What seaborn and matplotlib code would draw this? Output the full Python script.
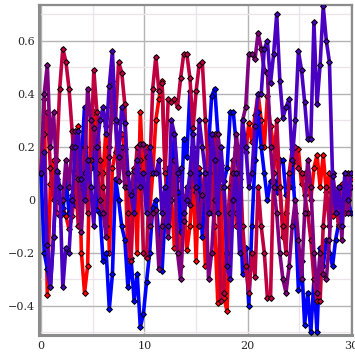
import numpy as np
import pandas as pd
import seaborn as sns
import matplotlib
matplotlib.use("Agg")
import matplotlib.pyplot as plt
from matplotlib.ticker import MultipleLocator

# x positions: 101 samples from 0 to 30
x_vals = np.round(np.arange(101) * 0.3, 2)

red_vals = [0.10, 0.38, -0.36, 0.06, 0.15, -0.05, -0.06, -0.03, -0.06, -0.11,
            -0.06, 0.05, 0.28, -0.20, -0.35, -0.25, 0.30, 0.33, 0.22, -0.05,
            0.10, 0.28, -0.20, 0.12, 0.18, 0.25, 0.25, 0.19, -0.23, 0.02,
            0.12, -0.20, 0.33, 0.06, 0.20, -0.05, 0.10, 0.30, 0.38, 0.45,
            0.12, -0.10, 0.02, -0.18, 0.08, -0.25, 0.01, -0.19, -0.10, 0.10,
            -0.23, 0.12, 0.05, -0.25, 0.02, 0.20, -0.10, -0.39, 0.05, -0.37,
            -0.42, 0.05, 0.15, -0.10, 0.08, 0.25, 0.18, 0.29, 0.22, 0.32,
            0.40, 0.30, 0.20, 0.39, 0.28, 0.20, 0.16, 0.05, -0.14, -0.05,
            0.10, 0.05, 0.19, 0.19, 0.06, 0.10, 0.06, 0.00, 0.12, 0.17,
            0.05, 0.17, 0.03, 0.10, -0.06, 0.00, -0.08, 0.06, -0.04, 0.02, 0.08]

blue_vals = [0.10, -0.20, -0.26, -0.33, -0.14, 0.08, 0.00, -0.05, 0.09, -0.05,
             0.02, -0.02, 0.03, 0.15, 0.35, 0.03, 0.12, 0.20, -0.04, -0.05,
             -0.23, -0.20, -0.41, -0.28, 0.08, 0.00, -0.10, -0.15, -0.33, -0.22,
             -0.38, -0.28, -0.48, -0.43, -0.31, -0.20, -0.03, 0.00, -0.14, -0.27,
             -0.05, 0.12, 0.05, 0.25, 0.03, -0.12, 0.23, 0.16, 0.41, 0.18,
             0.03, 0.10, -0.14, 0.10, 0.20, 0.39, 0.42, 0.25, 0.13, 0.07,
             0.12, 0.33, 0.33, 0.20, 0.05, -0.28, -0.18, -0.40, -0.10, 0.15,
             0.33, 0.20, 0.10, 0.00, 0.07, 0.07, 0.03, 0.15, 0.15, 0.02,
             0.05, 0.14, -0.05, -0.34, -0.23, -0.47, -0.35, -0.50, -0.30, -0.50,
             -0.18, -0.25, -0.15, -0.20, -0.25, -0.15, -0.09, -0.05, -0.03, 0.00, -0.05]

crimson_vals = [0.10, 0.25, 0.33, 0.12, 0.00, 0.15, 0.42, 0.57, 0.52, 0.42,
                0.26, 0.10, -0.10, 0.05, 0.20, -0.05, 0.15, 0.49, 0.33, 0.15,
                0.05, -0.10, 0.20, 0.35, 0.30, 0.52, 0.48, 0.36, -0.05, -0.23,
                0.05, 0.20, 0.15, -0.20, -0.22, 0.10, 0.42, 0.54, 0.41, 0.44,
                0.10, 0.38, 0.37, 0.38, 0.35, 0.46, 0.55, 0.55, 0.46, 0.27,
                0.41, 0.51, 0.52, 0.30, 0.10, -0.05, 0.25, 0.10, -0.38, -0.35,
                -0.10, 0.05, 0.15, -0.05, 0.20, -0.10, -0.25, -0.35, -0.20, -0.29,
                0.05, -0.10, -0.20, -0.37, -0.37, 0.10, 0.30, 0.05, -0.10, -0.20,
                0.10, 0.19, 0.20, 0.12, 0.10, 0.02, -0.05, -0.15, -0.30, -0.38,
                -0.38, -0.10, 0.05, -0.10, 0.10, 0.00, -0.10, 0.05, -0.05, 0.10, 0.05]

purple_vals = [0.10, 0.40, 0.51, 0.20, 0.33, 0.10, -0.01, 0.00, 0.15, 0.05,
               0.20, 0.26, 0.08, -0.12, 0.10, 0.42, 0.30, 0.27, 0.10, 0.00,
               -0.05, -0.14, 0.16, 0.45, 0.29, 0.07, 0.20, 0.05, 0.05, 0.03,
               0.11, 0.12, 0.21, 0.21, 0.16, -0.10, -0.05, -0.04, -0.26, -0.10,
               0.00, -0.14, 0.00, 0.15, -0.20, -0.30, -0.08, 0.05, -0.02, 0.20,
               0.05, -0.10, 0.02, 0.10, -0.30, -0.20, 0.00, 0.25, 0.10, 0.05,
               -0.20, -0.05, 0.10, 0.25, 0.10, 0.30, 0.35, 0.55, 0.55, 0.53,
               0.63, 0.57, 0.49, 0.48, 0.20, 0.05, -0.05, -0.20, -0.30, -0.35,
               -0.25, -0.10, 0.00, -0.15, -0.30, -0.05, 0.15, 0.05, -0.20, -0.35,
               -0.20, -0.28, -0.30, -0.15, 0.10, 0.00, 0.05, -0.15, 0.10, -0.05, 0.05]

indigo_vals = [0.10, 0.18, -0.17, -0.33, -0.14, 0.11, 0.05, -0.33, -0.18, -0.20,
               0.00, 0.20, 0.26, 0.08, 0.00, 0.15, 0.05, -0.10, 0.20, 0.30,
               0.35, 0.25, 0.43, 0.56, 0.30, 0.16, 0.35, 0.29, 0.10, 0.02,
               -0.05, 0.15, 0.05, 0.10, -0.05, 0.20, 0.10, 0.10, 0.15, -0.05,
               0.05, -0.10, 0.30, 0.25, 0.10, 0.12, -0.05, 0.00, 0.10, 0.25,
               0.05, 0.30, 0.20, 0.10, -0.05, 0.25, 0.15, -0.05, 0.20, 0.05,
               -0.25, -0.30, 0.00, 0.10, -0.20, 0.30, 0.20, 0.05, 0.10, 0.28,
               0.40, 0.40, 0.57, 0.60, 0.44, 0.55, 0.70, 0.45, 0.31, 0.35,
               0.38, 0.15, 0.30, 0.56, 0.49, 0.37, 0.23, 0.23, 0.67, 0.36,
               0.51, 0.73, 0.60, 0.52, 0.09, -0.05, 0.05, -0.10, 0.10, 0.00, 0.10]

series_names = ["red", "blue", "crimson", "purple", "indigo"]
series_colors = ["#ff0000", "#0000ff", "#bf0040", "#800080", "#4a00c0"]
series_vals = [red_vals, blue_vals, crimson_vals, purple_vals, indigo_vals]

sns.set_style("white")
plt.rcParams['font.family'] = ['DejaVu Serif']

fig = plt.figure(figsize=(3.55, 3.55), dpi=100)
ax = fig.add_axes([0.11, 0.056, 0.882, 0.93])

for name, col, vals in zip(series_names, series_colors, series_vals):
    sns.lineplot(x=x_vals, y=vals, ax=ax, color=col, linewidth=2.6,
                 marker='D', markersize=3.0, markerfacecolor=col,
                 markeredgecolor='black', markeredgewidth=0.7,
                 sort=False, estimator=None, zorder=3)

ax.set_xlim(-0.2, 30.1)
ax.set_ylim(-0.51, 0.735)

ax.xaxis.set_major_locator(MultipleLocator(10))
ax.xaxis.set_minor_locator(MultipleLocator(5))
ax.yaxis.set_major_locator(MultipleLocator(0.2))
ax.yaxis.set_minor_locator(MultipleLocator(0.1))

ax.grid(which='major', color='#b4b4b4', linewidth=1.0, zorder=0)
ax.grid(which='minor', color='#ebe4eb', linewidth=0.9, zorder=0)
ax.set_axisbelow(True)

ax.yaxis.set_major_formatter(plt.FuncFormatter(
    lambda v, p: "0" if abs(v) < 1e-9 else ("%.1f" % v).replace("-", "\u2212")))

ax.tick_params(which='major', direction='in', length=4, width=1, color='#555555',
               labelsize=8, pad=3)
ax.tick_params(which='minor', direction='in', length=2, width=0.8, color='#555555')
ax.tick_params(axis='x', which='major', pad=4)

for side in ['left', 'bottom']:
    ax.spines[side].set_color('#8c8c8c')
    ax.spines[side].set_linewidth(2.2)
for side in ['top', 'right']:
    ax.spines[side].set_color('#8c8c8c')
    ax.spines[side].set_linewidth(1.6)

ax.set_xlabel("")
ax.set_ylabel("")

fig.savefig("out.png", dpi=100)
